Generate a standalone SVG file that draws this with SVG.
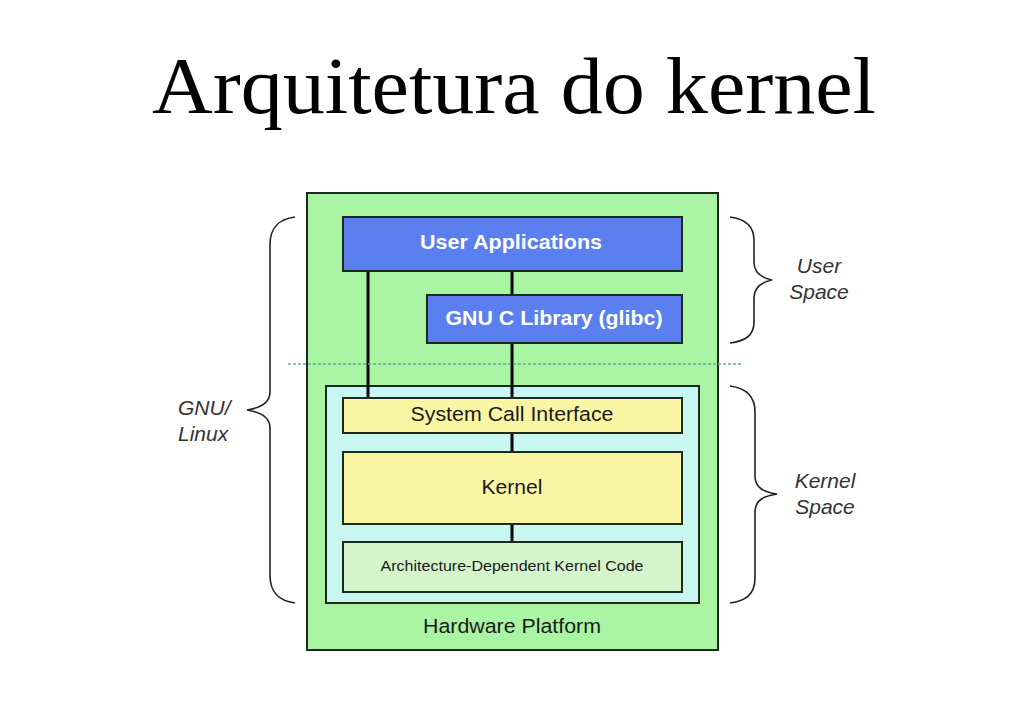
<svg xmlns="http://www.w3.org/2000/svg" width="1030" height="728" viewBox="0 0 1030 728">
<style>
.title{font-family:"Liberation Serif","DejaVu Serif",serif;font-size:80px;fill:#000}
.lbl{font-family:"Liberation Sans",Arial,sans-serif;text-anchor:middle}
.wb{fill:#fff;font-weight:bold;font-size:20.5px}
.dk{fill:#1a1a1a;font-size:20.5px}
.it{font-family:"Liberation Sans",Arial,sans-serif;font-style:italic;font-size:21px;fill:#333}
.box{stroke:#1c2a1c;stroke-width:2}
.conn{stroke:#000;stroke-width:3;fill:none}
.brace{stroke:#222;stroke-width:1.6;fill:none}
</style>
<rect width="1030" height="728" fill="#fff"/>
<text class="title" x="152" y="113" textLength="724" lengthAdjust="spacingAndGlyphs">Arquitetura do kernel</text>

<g id="hardware">
<rect class="box" x="307" y="193" width="411" height="457" fill="#a9f5a3" stroke="#2d5a2d"/>
<text class="lbl dk" x="512" y="633" textLength="178" lengthAdjust="spacingAndGlyphs">Hardware Platform</text>
</g>
<g id="kernel-space-area">
<rect class="box" x="326" y="386" width="373" height="217" fill="#c8f7f2"/>
</g>

<g id="connectors">
<line class="conn" x1="368" y1="271" x2="368" y2="398"/>
<line class="conn" x1="512" y1="271" x2="512" y2="295"/>
<line class="conn" x1="512" y1="343" x2="512" y2="398"/>
<line class="conn" x1="512" y1="433" x2="512" y2="452"/>
<line class="conn" x1="512" y1="524" x2="512" y2="542"/>
<line x1="288" y1="364" x2="743" y2="364" stroke="#62aaa4" stroke-width="1.6" stroke-dasharray="3,2"/>
</g>

<g id="user-applications">
<rect class="box" x="343" y="217" width="339" height="54" fill="#5b7fee"/>
<text class="lbl wb" x="511" y="249" textLength="182" lengthAdjust="spacingAndGlyphs">User Applications</text>
</g>
<g id="glibc">
<rect class="box" x="427" y="295" width="255" height="48" fill="#5b7fee"/>
<text class="lbl wb" x="554" y="325" textLength="217" lengthAdjust="spacingAndGlyphs">GNU C Library (glibc)</text>
</g>
<g id="system-call-interface">
<rect class="box" x="343" y="398" width="339" height="35" fill="#fbf6a3"/>
<text class="lbl dk" x="512" y="421" textLength="203" lengthAdjust="spacingAndGlyphs">System Call Interface</text>
</g>
<g id="kernel">
<rect class="box" x="343" y="452" width="339" height="72" fill="#fbf6a3"/>
<text class="lbl dk" x="512" y="494" textLength="61" lengthAdjust="spacingAndGlyphs">Kernel</text>
</g>
<g id="arch-code">
<rect class="box" x="343" y="542" width="339" height="50" fill="#d4f5cc"/>
<text class="lbl" x="512" y="571" font-size="15.5" fill="#1a1a1a" textLength="263" lengthAdjust="spacingAndGlyphs">Architecture-Dependent Kernel Code</text>
</g>

<g id="gnu-linux">
<path class="brace" d="M295,217 C280,219 270,226 270,245 L270,392 C270,403 260,408 247,410 C260,412 270,417 270,428 L270,575 C270,594 280,601 295,603"/>
<text class="it" x="178" y="415">GNU/</text>
<text class="it" x="178" y="441">Linux</text>
</g>
<g id="user-space">
<path class="brace" d="M730,217 C745,219 754,226 754,240 L754,262 C754,273 762,278 772,280 C762,282 754,287 754,298 L754,322 C754,336 745,341 730,343"/>
<text class="it" x="819" y="273" text-anchor="middle">User</text>
<text class="it" x="819" y="299" text-anchor="middle">Space</text>
</g>
<g id="kernel-space">
<path class="brace" d="M730,386 C745,388 755,395 755,412 L755,476 C755,488 764,492 777,494 C764,496 755,500 755,512 L755,578 C755,595 745,601 730,603"/>
<text class="it" x="825" y="488" text-anchor="middle">Kernel</text>
<text class="it" x="825" y="514" text-anchor="middle">Space</text>
</g>
</svg>
